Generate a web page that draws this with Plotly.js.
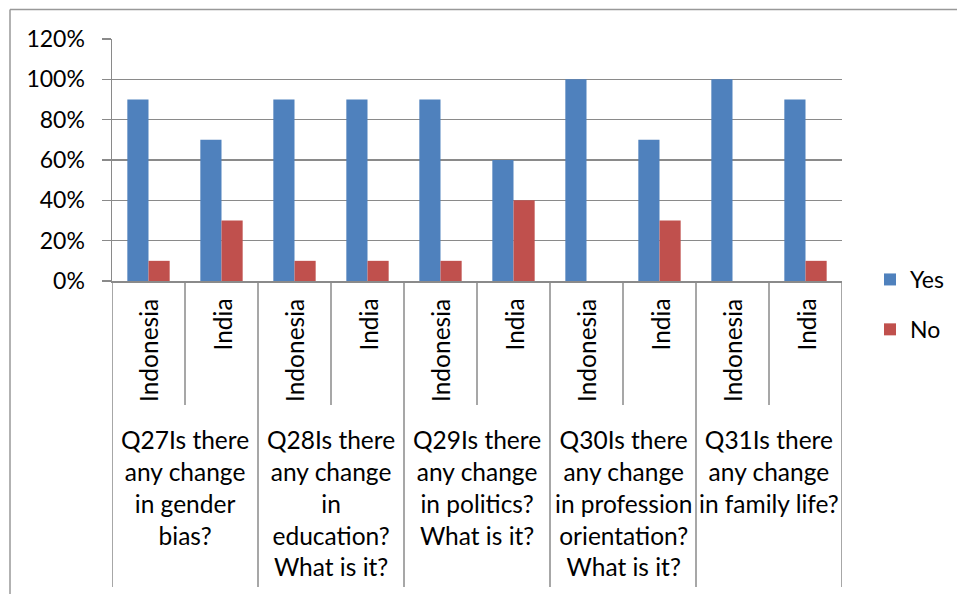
<!DOCTYPE html>
<html><head><meta charset="utf-8">
<script src="https://cdn.plot.ly/plotly-3.0.1.min.js"></script>
<style>html,body{margin:0;padding:0;background:#fff}#c{width:957px;height:594px}</style>
</head><body><div id="c"></div>
<script>
const countries = ["Indonesia","India","Indonesia","India","Indonesia","India","Indonesia","India","Indonesia","India"];
const groups = [
  "Q27Is there<br>any change<br>in gender<br>bias?",
  "Q28Is there<br>any change<br>in<br>education?<br>What is it?",
  "Q29Is there<br>any change<br>in politics?<br>What is it?",
  "Q30Is there<br>any change<br>in profession<br>orientation?<br>What is it?",
  "Q31Is there<br>any change<br>in family life?"
];
const yesVals = [0.9,0.7,0.9,0.9,0.9,0.6,1.0,0.7,1.0,0.9];
const noVals  = [0.1,0.3,0.1,0.1,0.1,0.4,0.0,0.3,0.0,0.1];
const yTicks = [0,0.2,0.4,0.6,0.8,1.0,1.2];

const W=957,H=594, mL=112, mR=115, mT=39, mB=313;
const pw=W-mL-mR, ph=H-mT-mB;
const px = p => (p-mL)/pw;
const py = p => (H-mB-p)/ph;
const FONT = "Lato, 'Open Sans', sans-serif";
const GRID = "#8a8a8a";
const idx = countries.map((_,i)=>i);

const traces = [
  {type:'bar', name:'Yes', x:idx, y:yesVals, marker:{color:'#4F81BD'}, legendgroup:'a'},
  {type:'bar', name:'No', x:idx, y:noVals, marker:{color:'#C0504D'}, legendgroup:'b'}
];

const shapes = [];
const annotations = [];
for(let i=0;i<=countries.length;i++){
  const isGroup = i%2===0;
  shapes.push({type:'line', xref:'x', yref:'paper', x0:i-0.5, x1:i-0.5, y0:0, y1:py(isGroup?587:405),
    line:{color:GRID,width:1.5}});
}
countries.forEach((c,i)=>{
  annotations.push({xref:'x', yref:'paper', x:i, y:py(297), text:c, textangle:-90, showarrow:false,
    xanchor:'center', yanchor:'top', font:{family:FONT,size:24.5,color:'#000'}});
});
groups.forEach((g,k)=>{
  annotations.push({xref:'x', yref:'paper', x:2*k+0.5, y:py(423), text:g, showarrow:false,
    xanchor:'center', yanchor:'top', align:'center', font:{family:FONT,size:24.5,color:'#000'}});
});
shapes.push({type:'line', xref:'paper', yref:'paper', x0:px(10), x1:px(10), y0:py(9.5), y1:py(600), line:{color:'#999',width:1.5}});
shapes.push({type:'line', xref:'paper', yref:'paper', x0:px(10), x1:px(960), y0:py(9.5), y1:py(9.5), line:{color:'#999',width:1.5}});

const layout = {
  width:W, height:H, margin:{l:mL,r:mR,t:mT,b:mB},
  paper_bgcolor:'#fff', plot_bgcolor:'#fff',
  font:{family:FONT,size:23,color:'#000'},
  bargap:0.42, bargroupgap:0, barmode:'group',
  xaxis:{type:'linear', range:[-0.5,countries.length-0.5], showticklabels:false, showgrid:false,
    zeroline:false, showline:true, linecolor:GRID, linewidth:1.5, ticks:'', fixedrange:true},
  yaxis:{range:[0,1.2], tickvals:yTicks, tickformat:'.0%', showgrid:true, gridcolor:GRID, gridwidth:1.5,
    zeroline:false, showline:true, linecolor:GRID, linewidth:1.5, ticks:'outside', ticklen:9, tickcolor:GRID, tickwidth:1.5,
    ticklabelstandoff:12, tickfont:{family:FONT,size:23,color:'#000'}},
  showlegend:true,
  legend:{xref:'container', yref:'container', x:870/W, y:1-258/H, xanchor:'left', yanchor:'top',
    traceorder:'grouped', tracegroupgap:17, itemwidth:30,
    font:{family:FONT,size:23,color:'#000'}, bgcolor:'rgba(0,0,0,0)'},
  shapes, annotations
};
Plotly.newPlot('c', traces, layout, {displayModeBar:false, staticPlot:true});
</script></body></html>
